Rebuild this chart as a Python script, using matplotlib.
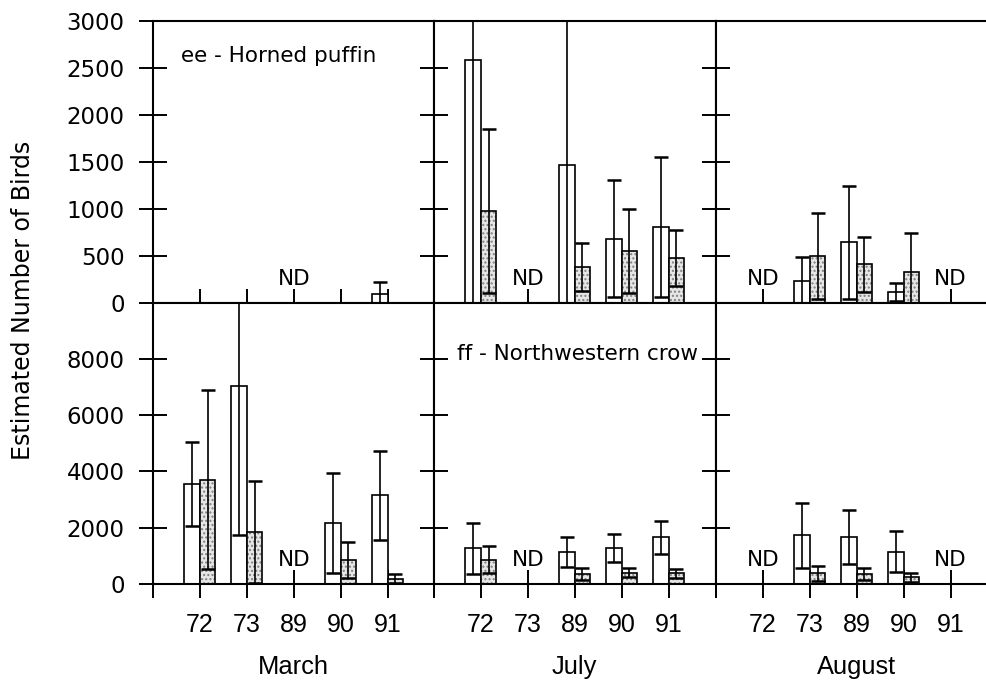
import numpy as np
import matplotlib.pyplot as plt
from matplotlib.transforms import blended_transform_factory

years = ['72', '73', '89', '90', '91']
months = ['March', 'July', 'August']

# one list per month (March, July, August); None means ND (no data)
puffin_open = [[0, 0, None, 0, 93], [2585, None, 1463, 682, 803], [None, 234, 643, 117, None]]
puffin_open_err = [[0, 0, None, 0, 131], [2700, None, 1600, 625, 745], [None, 253, 600, 96, None]]
puffin_dot = [[0, 0, None, 0, 0], [977, None, 383, 551, 473], [None, 497, 409, 327, None]]
puffin_dot_err = [[0, 0, None, 0, 0], [875, None, 255, 450, 298], [None, 460, 290, 420, None]]

crow_open = [[3561, 7048, None, 2155, 3155], [1262, None, 1143, 1274, 1667], [None, 1726, 1667, 1143, None]]
crow_open_err = [[1490, 5300, None, 1780, 1580], [920, None, 540, 505, 590], [None, 1140, 965, 730, None]]
crow_dot = [[3714, 1846, None, 857, 190], [857, None, 357, 405, 381], [None, 381, 357, 238, None]]
crow_dot_err = [[3170, 1810, None, 650, 170], [480, None, 220, 150, 150], [None, 260, 220, 160, None]]

rows = [
    dict(title='ee - Horned puffin', opn=puffin_open, opn_err=puffin_open_err,
         dot=puffin_dot, dot_err=puffin_dot_err, ylim=3000, yticks=np.arange(0, 3001, 500),
         title_col=0, title_x=0.59, title_y=0.855),
    dict(title='ff - Northwestern crow', opn=crow_open, opn_err=crow_open_err,
         dot=crow_dot, dot_err=crow_dot_err, ylim=10000, yticks=np.arange(0, 8001, 2000),
         title_col=1, title_x=0.48, title_y=0.795),
]

W, H = 986.0, 694.0
lefts = [153, 434, 716]
pw = 281.5
row_px = [(21, 302.7), (302.7, 584)]
bw = 0.33

fig = plt.figure(figsize=(W / 100, H / 100), dpi=100)

for r, row in enumerate(rows):
    top_px, bot_px = row_px[r]
    for c in range(3):
        ax = fig.add_axes([lefts[c] / W, 1 - bot_px / H, pw / W, (bot_px - top_px) / H])
        ax.set_xlim(0, 6)
        ax.set_ylim(0, row['ylim'])
        for s in ax.spines.values():
            s.set_linewidth(1.5)
        if c == 2:
            ax.spines['right'].set_visible(False)

        trans = blended_transform_factory(ax.transData, ax.transAxes)
        for i, yr in enumerate(years):
            x = i + 1
            v1, e1 = row['opn'][c][i], row['opn_err'][c][i]
            v2, e2 = row['dot'][c][i], row['dot_err'][c][i]
            if v1 is None:
                ax.text(x, 0.063, 'ND', transform=trans, ha='center', va='baseline',
                        fontsize=15.5)
                continue
            if v1 > 0:
                ax.bar(x - bw / 2, v1, width=bw, facecolor='white', edgecolor='black',
                       linewidth=1.2, zorder=2)
                ax.errorbar(x - bw / 2, v1, yerr=e1, fmt='none', ecolor='black',
                            elinewidth=1.2, capsize=5, capthick=1.8, zorder=3)
            if v2 > 0:
                ax.bar(x + bw / 2, v2, width=bw, facecolor='#e6e6e6', edgecolor='0.5',
                       hatch='....', linewidth=0, zorder=2)
                ax.bar(x + bw / 2, v2, width=bw, facecolor='none', edgecolor='black',
                       linewidth=1.2, zorder=2)
                ax.errorbar(x + bw / 2, v2, yerr=e2, fmt='none', ecolor='black',
                            elinewidth=1.2, capsize=5, capthick=1.8, zorder=3)

        ax.set_xticks(range(7))
        ax.set_yticks(row['yticks'])
        ax.tick_params(direction='inout', length=20, width=1.4)
        ax.tick_params(axis='y', labelsize=16.5, pad=10.5)
        if c > 0:
            ax.set_yticklabels([])
        if r == 0:
            ax.set_xticklabels([])
        else:
            ax.set_xticklabels([''] + years + [''], fontfamily='Liberation Sans', fontsize=18)
            ax.tick_params(axis='x', pad=11)
            ax.set_xlabel(months[c], fontfamily='Liberation Sans', fontsize=18.4, labelpad=13)

        if c == row['title_col']:
            ax.text(row['title_x'], row['title_y'], row['title'], transform=trans,
                    ha='left', va='baseline', fontsize=15.5)

fig.text(23 / W, 1 - 300 / H, 'Estimated Number of Birds', rotation=90,
         ha='center', va='center', fontsize=17)

fig.savefig('out.png', dpi=100)
